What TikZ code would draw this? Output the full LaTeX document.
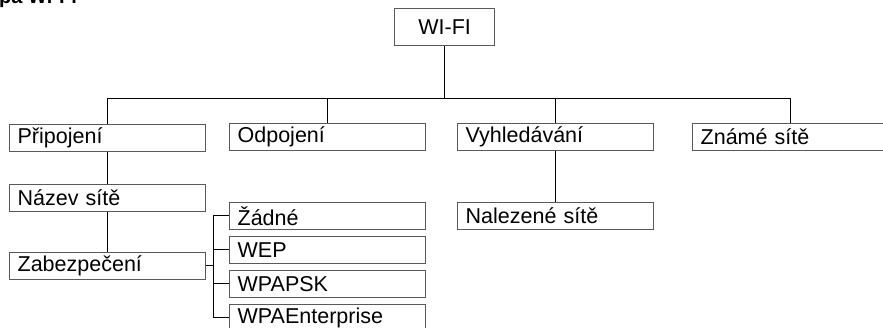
\documentclass[tikz,border=0pt]{standalone}
\usepackage{fontspec}
\setmainfont{Liberation Sans}
\begin{document}
\begin{tikzpicture}[x=1pt,y=-1pt,
  box/.style={draw=black!65, line width=1.3pt, fill=white, anchor=north west,
    minimum height=26.5pt, text width=180pt, inner xsep=8pt, inner ysep=0pt,
    align=left, font=\fontsize{21.5}{24}\selectfont},
  topbox/.style={draw=black!65, line width=1.3pt, fill=white, anchor=north west,
    minimum width=100pt, minimum height=37pt, inner sep=0pt,
    font=\fontsize{21.5}{24}\selectfont},
  conn/.style={draw=black, line width=0.9pt}]
\useasboundingbox (0,0) rectangle (883,327);
\clip (0,0) rectangle (883,327);
\node[anchor=base west, inner sep=0pt, font=\bfseries\fontsize{20}{22}\selectfont] (title) at (-1,3) {pa Wi-Fi};
\coordinate (bus) at (0,98);
\coordinate (sp) at (213,0);
\node[topbox] (wifi) at (394,8) {WI-FI};
\node[box] (prip) at (9,124) {Připojení};
\node[box] (odp) at (229,123) {Odpojení};
\node[box] (vyhl) at (457,123) {Vyhledávání};
\node[box] (zname) at (692,123) {Známé sítě};
\node[box] (nazev) at (9,184) {Název sítě};
\node[box] (zab) at (9,252) {Zabezpečení};
\node[box] (zadne) at (229,202) {Žádné};
\node[box] (wep) at (229,236) {WEP};
\node[box] (wpapsk) at (229,270) {WPAPSK};
\node[box] (wpaent) at (229,304) {WPAEnterprise};
\node[box] (nalez) at (457,202) {Nalezené sítě};
\draw[conn] (wifi.south) -- (wifi.south |- bus);
\draw[conn] (prip.north) |- (zname.north |- bus) -- (zname.north);
\draw[conn] (odp.north) -- (odp.north |- bus);
\draw[conn] (vyhl.north) -- (vyhl.north |- bus);
\draw[conn] (prip.south) -- (nazev.north);
\draw[conn] (nazev.south) -- (zab.north);
\draw[conn] (vyhl.south) -- (nalez.north);
\draw[conn] (zab.east) -- (sp |- zab.east);
\draw[conn] (zadne.west) -| (sp |- wpaent.west) -- (wpaent.west);
\draw[conn] (wep.west) -- (sp |- wep.west);
\draw[conn] (wpapsk.west) -- (sp |- wpapsk.west);
\end{tikzpicture}
\end{document}
